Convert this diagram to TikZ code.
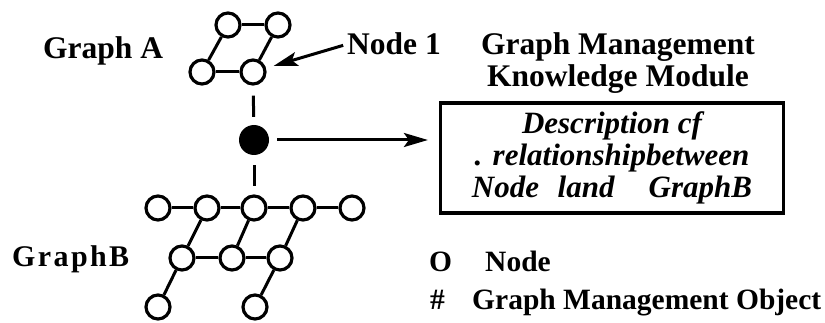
\documentclass[tikz,border=0pt]{standalone}
\usepackage{fontspec}
\setmainfont{Liberation Serif}
\newfontfamily\spacedfont[LetterSpace=8]{Liberation Serif}
\usetikzlibrary{arrows.meta, positioning}
\tikzstyle{vertex} = [circle, draw=black, line width=3.2pt, minimum size=24pt, inner sep=0pt]
\tikzstyle{gmo} = [circle, fill=black, minimum size=30pt, inner sep=0pt]
\tikzstyle{edge} = [line width=3pt]
\tikzstyle{link} = [line width=3pt, shorten <=10pt, shorten >=8pt]
\tikzstyle{lbl} = [inner sep=0pt, anchor=base west, font=\fontsize{31.5}{33}\selectfont\bfseries]
\tikzstyle{legend} = [inner sep=0pt, anchor=base west, font=\fontsize{29.5}{33}\selectfont\bfseries]
\tikzstyle{heading} = [inner sep=0pt, anchor=base, align=center, font=\fontsize{31.5}{32}\selectfont\bfseries]
\tikzstyle{description} = [rectangle, draw=black, line width=3.2pt, minimum width=343pt, minimum height=110pt, align=center, font=\fontsize{31}{32}\selectfont\bfseries\itshape]
\tikzstyle{arrow} = [line width=3pt, -{Stealth[length=24pt, width=14pt, inset=5pt]}]

\begin{document}
\begin{tikzpicture}[x=1pt, y=-1pt]
    \useasboundingbox (0,0) rectangle (825,323);

    % Graph A
    \node (a1) [vertex] at (228,25) {};
    \node (a2) [vertex] at (278,25) {};
    \node (a3) [vertex] at (202,72) {};
    \node (a4) [vertex] at (253,72) {};
    \draw [edge] (a1) -- (a2);
    \draw [edge] (a1) -- (a3);
    \draw [edge] (a2) -- (a4);
    \draw [edge] (a3) -- (a4);

    % graph management object
    \node (gmobj) [gmo] at (254,140) {};

    % Graph B
    \node (b1) [vertex] at (158,208) {};
    \node (b2) [vertex] at (207,208) {};
    \node (b3) [vertex] at (254,208) {};
    \node (b4) [vertex] at (303,208) {};
    \node (b5) [vertex] at (352,208) {};
    \node (b6) [vertex] at (182,258) {};
    \node (b7) [vertex] at (232,258) {};
    \node (b8) [vertex] at (280,258) {};
    \node (b9) [vertex] at (158,307) {};
    \node (b10) [vertex] at (255,307) {};
    \draw [edge] (b1) -- (b2);
    \draw [edge] (b2) -- (b3);
    \draw [edge] (b3) -- (b4);
    \draw [edge] (b4) -- (b5);
    \draw [edge] (b6) -- (b7);
    \draw [edge] (b7) -- (b8);
    \draw [edge] (b2) -- (b6);
    \draw [edge] (b3) -- (b7);
    \draw [edge] (b4) -- (b8);
    \draw [edge] (b6) -- (b9);
    \draw [edge] (b8) -- (b10);

    \draw [link] (a4) -- (gmobj);
    \draw [link] (gmobj) -- (b3);

    % labels
    \node (graph_a) [lbl] at (43,59) {Graph A};
    \node (graph_b) [lbl, font=\fontsize{30}{33}\selectfont\spacedfont\bfseries] at (12,267) {GraphB};
    \node (node_one) [lbl] at (347,55) {Node 1};
    \node (module) [heading] at (618,87) {Graph Management\\Knowledge Module};

    \node (descbox) [description] at (612,158) {Description cf\hspace{14pt}\\. relationshipbetween\hspace{28pt}\\Node\hspace{0.6em}land\hspace{1.1em}GraphB};

    % legend
    \node (key_o) [legend] at (429,272) {O};
    \node (key_o_text) [legend] at (485,272) {Node};
    \node (key_hash) [legend] at (430,309) {\#};
    \node (key_hash_text) [legend] at (472,309) {Graph Management Object};

    \draw [arrow, shorten <=4pt, shorten >=8pt] (node_one.west) -- (a4);
    \draw [arrow, shorten <=8pt, shorten >=11pt] (gmobj) -- (gmobj -| descbox.west);
\end{tikzpicture}
\end{document}
